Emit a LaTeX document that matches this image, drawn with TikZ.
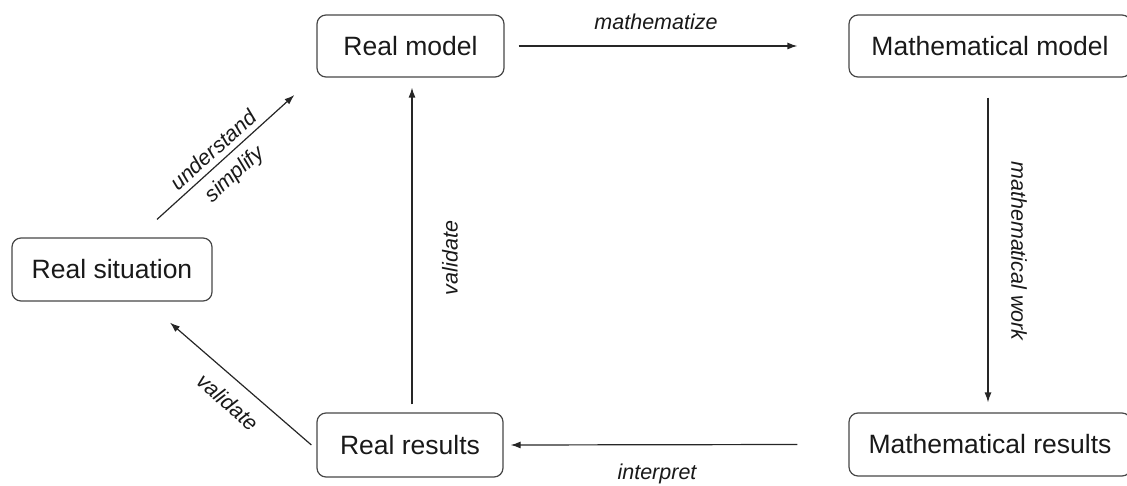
\documentclass[tikz,border=0pt]{standalone}
\usepackage{fontspec}
\setmainfont{Liberation Sans}
\usetikzlibrary{arrows.meta}
\tikzset{
  box/.style={draw=black!72, line width=1.2pt, rounded corners=9pt, inner sep=0pt,
    font=\fontsize{26.5}{30}\selectfont, text=black!90},
  lbl/.style={font=\itshape\fontsize{21.5}{24}\selectfont, inner sep=0pt, text=black!90},
  arr/.style={-{Latex[length=10pt,width=7pt]}, line width=1.2pt, draw=black!85},
}
\begin{document}
\begin{tikzpicture}[x=1pt,y=-1pt]
\useasboundingbox (0,0) rectangle (1127,486);
% nodes
\node[box, minimum width=200pt, minimum height=63pt] (sit) at (112,269.5) {Real situation};
\node[box, minimum width=187pt, minimum height=62pt] (rmodel) at (410.5,46) {Real model};
\node[box, minimum width=282pt, minimum height=62pt] (mmodel) at (990,46) {Mathematical model};
\node[box, minimum width=282pt, minimum height=63pt] (mres) at (990,444.5) {Mathematical results};
\node[box, minimum width=186pt, minimum height=64pt] (rres) at (410,445) {Real results};
% connectors
\draw[arr] ([xshift=14pt]rmodel.east) -- ([xshift=-51pt]mmodel.west);
\draw[arr] ([shift={(-2pt,-20pt)}]mmodel.south) -- ([shift={(-2pt,10pt)}]mres.north);
\draw[arr] ([xshift=-51pt]mres.west) -- ([xshift=7pt]rres.east);
\draw[arr] ([shift={(2pt,8pt)}]rres.north) -- ([shift={(1.5pt,-10pt)}]rmodel.south);
\draw[arr] ([xshift=-5pt]rres.west) -- ([shift={(58pt,-21pt)}]sit.south);
\draw[arr] ([shift={(45pt,18pt)}]sit.north) -- ([shift={(-22pt,-49pt)}]rmodel.west);
% labels
\node[lbl] (lmath) at (656,22) {mathematize};
\node[lbl, rotate=-90] (lwork) at (1019,251) {mathematical work};
\node[lbl] (linterp) at (657,474) {interpret};
\node[lbl, rotate=90] (lval1) at (450,258) {validate};
\node[lbl, rotate=42] (lund) at (213,150) {understand};
\node[lbl, rotate=42] (lsimp) at (235,175) {simplify};
\node[lbl, rotate=-41] (lval2) at (228,402) {validate};
\end{tikzpicture}
\end{document}
